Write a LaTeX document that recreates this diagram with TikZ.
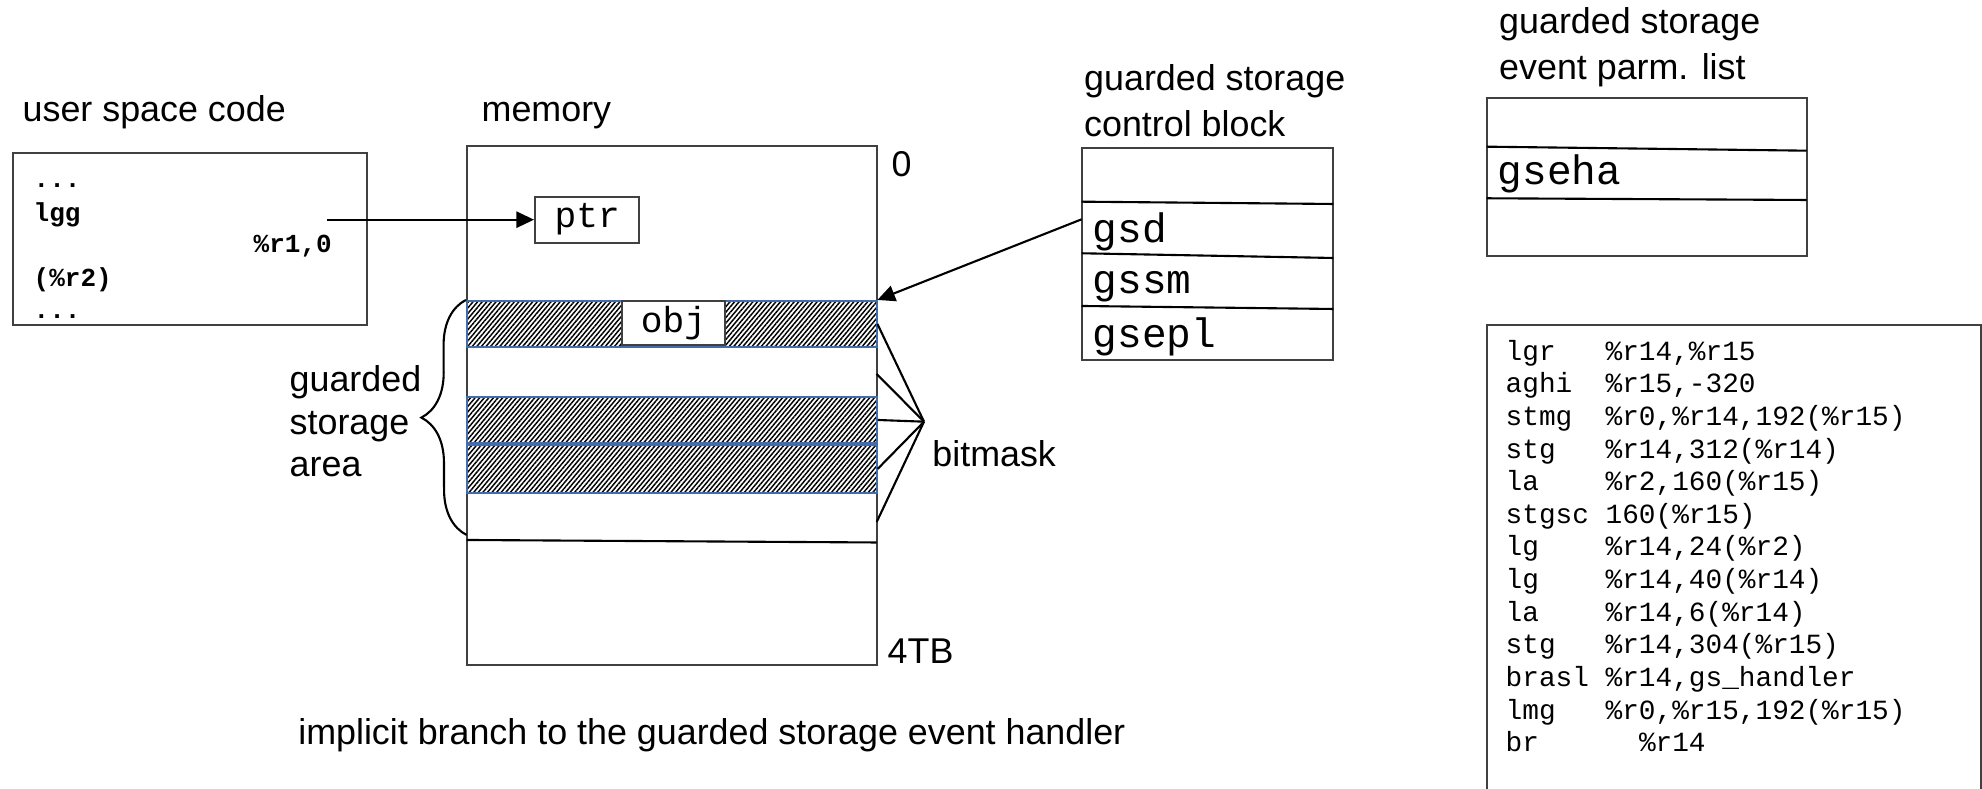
\documentclass[tikz,border=0pt]{standalone}
\usepackage{fontspec}
\setmainfont{Liberation Sans}
\setmonofont{Liberation Mono}
\usetikzlibrary{arrows.meta, patterns.meta, decorations.pathreplacing}

\definecolor{boxgray}{RGB}{64,64,64}
\definecolor{bandblue}{RGB}{68,108,172}

\begin{document}
\begin{tikzpicture}[
  caption/.style={inner sep=0pt, anchor=base west, align=left, font=\fontsize{10.2}{13.1}\selectfont},
  field/.style={inner sep=0pt, anchor=base west, font=\ttfamily\fontsize{11.7}{14}\selectfont},
  outline/.style={draw=boxgray, line width=0.6pt, inner sep=0pt},
  hatched/.style={draw=bandblue, line width=0.6pt, inner sep=0pt, minimum width=4.1cm,
    pattern={Lines[angle=50, distance=1pt, line width=0.42pt]}},
  ptrarrow/.style={line width=0.6pt, -{Triangle[length=5pt, width=4.6pt]}},
  maskline/.style={line width=0.6pt}
]
\useasboundingbox (0,0) rectangle (19.82,7.89);
\clip (0,0) rectangle (19.82,7.89);

% user space code
\node[caption] (user_label) at (0.22, 6.673) {user space code};
\node[outline, minimum width=3.54cm, minimum height=1.72cm] (user_code) at (1.90, 5.50) {};
\begin{scope}[every node/.style={inner sep=0pt, anchor=base west, font=\ttfamily\bfseries\fontsize{7.4}{9}\selectfont}]
  \node (user_dots1) at (0.33, 6.01) {...};
  \node (user_lgg) at (0.33, 5.673) {lgg};
  \node (user_op1) at (2.53, 5.36) {\%r1,0};
  \node (user_op2) at (0.33, 5.023) {(\%r2)};
  \node (user_dots2) at (0.33, 4.70) {...};
\end{scope}
\coordinate (lgg_ref) at (3.267, 5.693);

% memory
\node[caption] (mem_label) at (4.81, 6.673) {memory};
\node[outline, minimum width=4.1cm, minimum height=5.19cm] (memory) at (6.717, 3.835) {};
\node[caption] (mem_top) at (8.91, 6.123) {0};
\node[caption] (mem_end) at (8.87, 1.25) {4TB};
\draw[line width=0.6pt] (4.667, 2.49) -- (8.767, 2.465);

\node[outline, minimum width=1.043cm, minimum height=0.46cm, font=\ttfamily\fontsize{10.3}{12}\selectfont] (ptr) at (5.872, 5.693) {ptr};

\node[hatched, minimum height=0.466cm] (band1) at (6.717, 4.65) {};
\node[hatched, minimum height=0.466cm] (band2) at (6.717, 3.69) {};
\node[hatched, minimum height=0.477cm] (band3) at (6.717, 3.2015) {};
\node[outline, fill=white, minimum width=1.033cm, minimum height=0.443cm, font=\ttfamily\fontsize{10.3}{12}\selectfont] (obj) at (6.734, 4.66) {obj};

% guarded storage area
\coordinate (area_end) at (4.667, 2.54);
\draw[line width=0.6pt, decorate, decoration={brace, amplitude=0.45cm}] (area_end) -- (band1.north west);
\node[caption, font=\fontsize{10.2}{12.1}\selectfont] (area_label) at (2.89, 3.123) {guarded\\storage\\area};

% bitmask
\coordinate (mask_pt) at (9.24, 3.673);
\coordinate (gap_top) at (8.767, 4.15);
\coordinate (gap_low) at (8.767, 2.67);
\foreach \row in {band1.east, gap_top, band2.east, band3.east, gap_low}
  \draw[maskline] (\row) -- (mask_pt);
\node[caption] (mask_label) at (9.317, 3.22) {bitmask};

% control block
\node[caption] (ctrl_label) at (10.835, 6.52) {guarded storage\\control block};
\node[outline, minimum width=2.516cm, minimum height=2.117cm] (ctrl_block) at (12.075, 5.3485) {};
\draw[line width=0.6pt] (10.817, 5.873) -- (13.333, 5.85);
\draw[line width=0.6pt] (10.817, 5.357) -- (13.333, 5.31);
\draw[line width=0.6pt] (10.817, 4.83) -- (13.333, 4.80);
\node[field] (gsd) at (10.92, 5.463) {gsd};
\node[field] (gssm) at (10.92, 4.957) {gssm};
\node[field] (gsepl) at (10.92, 4.41) {gsepl};
\coordinate (gsd_ref) at (10.817, 5.697);

% event parameter list
\node[caption] (parm_label) at (14.985, 7.09) {guarded storage\\event parm. list};
\node[outline, minimum width=3.2cm, minimum height=1.583cm] (parm_list) at (16.467, 6.1215) {};
\draw[line width=0.6pt] (14.867, 6.423) -- (18.067, 6.383);
\draw[line width=0.6pt] (14.867, 5.907) -- (18.067, 5.89);
\node[field] (gseha) at (14.97, 6.047) {gseha};

% handler code
\node[outline, anchor=north west, minimum width=4.94cm, minimum height=4.8cm] (handler_box) at (14.86, 4.65) {};
\node[inner sep=0pt, anchor=base west, align=left, font=\ttfamily\fontsize{7.9}{9.28}\selectfont] (handler_code) at (15.05, 0.373)
{lgr~~~\%r14,\%r15\\
aghi~~\%r15,-320\\
stmg~~\%r0,\%r14,192(\%r15)\\
stg~~~\%r14,312(\%r14)\\
la~~~~\%r2,160(\%r15)\\
stgsc~160(\%r15)\\
lg~~~~\%r14,24(\%r2)\\
lg~~~~\%r14,40(\%r14)\\
la~~~~\%r14,6(\%r14)\\
stg~~~\%r14,304(\%r15)\\
brasl~\%r14,gs\_handler\\
lmg~~~\%r0,\%r15,192(\%r15)\\
br~~~~~~\%r14};

\node[caption] (branch_label) at (2.976, 0.44) {implicit branch to the guarded storage event handler};

% pointers
\draw[ptrarrow] (lgg_ref) -- (ptr);
\draw[ptrarrow] (gsd_ref) -- (band1.north east);

\end{tikzpicture}
\end{document}
